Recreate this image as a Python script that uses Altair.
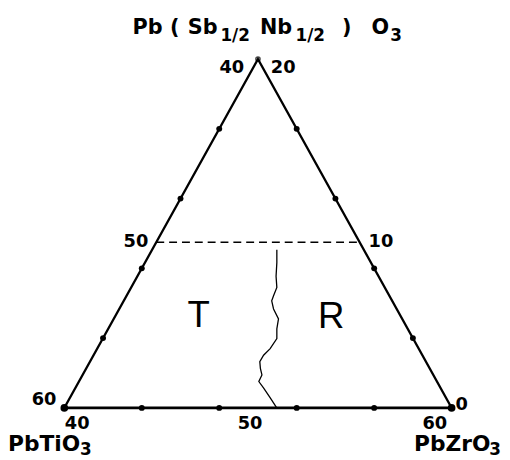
import altair as alt
import pandas as pd

# ---- composition data (mol%) ----
# vertices: PbTiO3-rich corner, PbZrO3-rich corner, PSN apex  (zr, psn)
vert_zr = [40, 60, 40]
vert_psn = [0, 0, 20]
# tick labels
base_tick_zr = [40, 50, 60]        # PbZrO3 along the base
left_tick_ti = [60, 50, 40]        # PbTiO3 along left edge
right_tick_psn = [0, 10, 20]       # Pb(Sb1/2Nb1/2)O3 along right edge
# small dots on the edges
edge_dot_psn = [4, 8, 12, 16]
base_dot_zr = [44, 48, 52, 56]
# dashed boundary level (PSN mol%)
tr_line_psn = 9.5
# morphotropic phase boundary (T / R)
mpb_psn = [9.07, 8.33, 7.55, 6.91, 6.42, 6.14, 5.67, 5.10, 4.53, 3.97, 3.40,
           3.02, 2.65, 2.27, 1.89, 1.51, 1.13, 0.57, 0.0]
mpb_zr = [46.44, 46.81, 47.16, 47.52, 47.59, 47.64, 47.97, 48.51, 48.71, 48.99,
          48.93, 48.78, 48.77, 48.99, 49.26, 49.29, 49.73, 50.35, 50.97]
phase_names = ["T", "R"]
phase_psn = [5.27, 5.21]
phase_zr = [44.3, 51.18]

W, H = 500, 450
FONT = "DejaVu Sans"
X = alt.X("x:Q", scale=alt.Scale(domain=[37.092, 62.602], nice=False, zero=False), axis=None)
Y = alt.Y("y:Q", scale=alt.Scale(domain=[-2.7195, 22.7762], nice=False, zero=False), axis=None)


def tern(df):
    return alt.Chart(df).transform_calculate(
        x="datum.zr + datum.psn / 2", y="datum.psn")


layers = []

# triangle sides
sides = pd.DataFrame({"zr": [60, 40, 40], "psn": [0, 20, 0], "o": [0, 1, 2]})
layers.append(tern(sides).mark_line(color="black", strokeWidth=2.2).encode(x=X, y=Y, order="o:Q"))
base = pd.DataFrame({"zr": [vert_zr[0], vert_zr[1]], "psn": [0, 0], "o": [0, 1]})
layers.append(tern(base).mark_line(color="black", strokeWidth=3).encode(x=X, y=Y, order="o:Q"))

# dashed line
dash = pd.DataFrame({"zr": [40, 60 - tr_line_psn], "psn": [tr_line_psn, tr_line_psn], "o": [0, 1]})
layers.append(tern(dash).mark_line(color="black", strokeWidth=1.6, strokeDash=[8, 5]).encode(x=X, y=Y, order="o:Q"))

# MPB curve
mpb = pd.DataFrame({"zr": mpb_zr, "psn": mpb_psn, "o": list(range(len(mpb_zr)))})
layers.append(tern(mpb).mark_line(color="black", strokeWidth=1.3).encode(x=X, y=Y, order="o:Q"))

# edge dots
dots = pd.DataFrame({
    "zr": [40] * 4 + [60 - p for p in edge_dot_psn] + base_dot_zr,
    "psn": edge_dot_psn + edge_dot_psn + [0] * 4,
})
layers.append(tern(dots).mark_circle(color="black", size=36, opacity=1).encode(x=X, y=Y))
vdots = pd.DataFrame({"zr": vert_zr[:2], "psn": vert_psn[:2]})
layers.append(tern(vdots).mark_circle(color="black", size=60, opacity=1).encode(x=X, y=Y))
apex = pd.DataFrame({"zr": [vert_zr[2]], "psn": [vert_psn[2]]})
layers.append(tern(apex).mark_point(color="black", size=18, strokeWidth=1.5, filled=False).encode(x=X, y=Y))


def label(txt, zr, psn, align, dx, dy, size=18):
    df = pd.DataFrame({"zr": [zr], "psn": [psn], "t": [str(txt)]})
    return tern(df).mark_text(font=FONT, fontWeight="bold", fontSize=size, align=align,
                              baseline="alphabetic", dx=dx, dy=dy, color="black").encode(x=X, y=Y, text="t:N")


# left-edge ticks (PbTiO3)
layers.append(label(left_tick_ti[0], 40, 60 - left_tick_ti[0], "right", -8, -3))
layers.append(label(left_tick_ti[1], 40, 60 - left_tick_ti[1], "right", -13, 13.5))
layers.append(label(left_tick_ti[2], 40, 60 - left_tick_ti[2], "right", -14, 14))
# right-edge ticks (PSN)
layers.append(label(right_tick_psn[0], 60 - right_tick_psn[0], right_tick_psn[0], "left", 4, 2))
layers.append(label(right_tick_psn[1], 60 - right_tick_psn[1], right_tick_psn[1], "left", 14, 13.5))
layers.append(label(right_tick_psn[2], 60 - right_tick_psn[2], right_tick_psn[2], "left", 13, 14))
# base ticks (PbZrO3)
layers.append(label(base_tick_zr[0], base_tick_zr[0], 0, "center", 13, 21))
layers.append(label(base_tick_zr[1], base_tick_zr[1], 0, "center", -8, 21))
layers.append(label(base_tick_zr[2], base_tick_zr[2], 0, "center", -17, 21))

# phase labels
ph = pd.DataFrame({"zr": phase_zr, "psn": phase_psn, "t": phase_names})
layers.append(tern(ph).mark_text(font="Liberation Sans", fontSize=37, baseline="middle",
                                 align="center", color="black").encode(x=X, y=Y, text="t:N"))


# compound names composed of pieces (page px -> plot px: minus 8)
def piece(txt, px, py, size):
    return alt.Chart(pd.DataFrame({"t": [txt]})).mark_text(
        font=FONT, fontWeight="bold", fontSize=size, align="left", baseline="alphabetic",
        color="black").encode(x=alt.value(px - 8), y=alt.value(py - 8), text="t:N")


title_parts = [("Pb", 134, 32, 21), ("(", 172, 32, 21), ("Sb", 190, 32, 21),
               ("1/2", 223, 39, 17), ("Nb", 263, 32, 21), ("1/2", 299, 39, 17),
               (")", 346, 32, 21), ("O", 376, 32, 21), ("3", 395, 39, 17)]
for t in title_parts:
    layers.append(piece(*t))
for t in [("PbTiO", 8, 454, 22), ("3", 81, 458, 17), ("PbZrO", 419, 454, 22), ("3", 495, 458, 17)]:
    layers.append(piece(*t))

chart = alt.layer(*layers).properties(width=W, height=H, padding=0, autosize="none").configure_view(stroke=None)
chart.save("out.html", embed_options={"renderer": "svg", "actions": False})
